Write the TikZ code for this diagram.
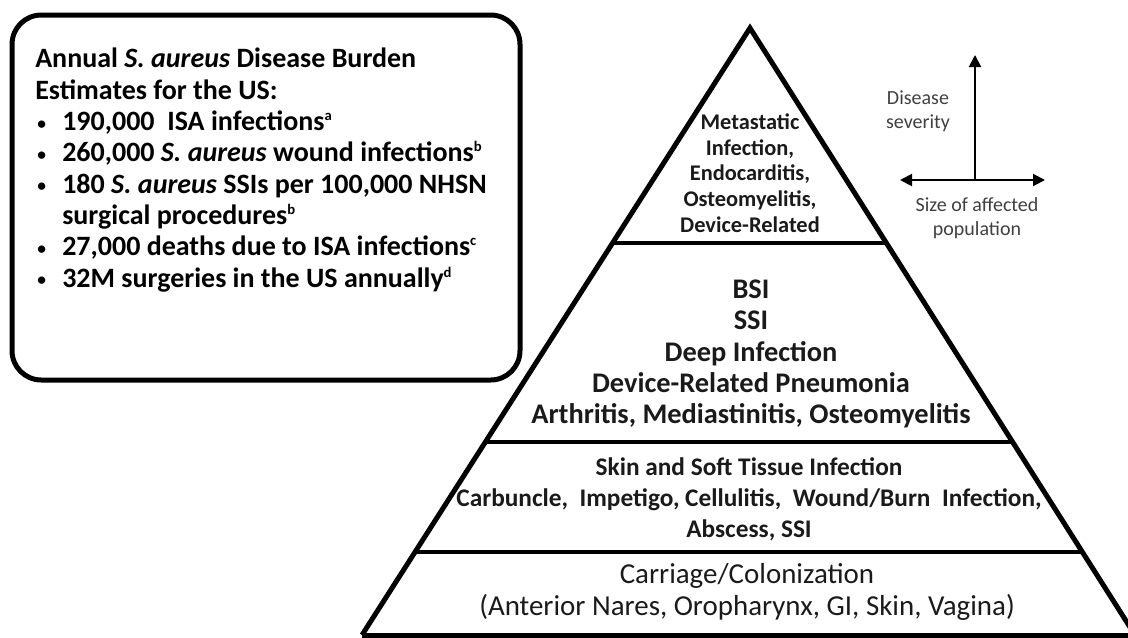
\documentclass[tikz,border=0pt]{standalone}
\usepackage{fontspec}
\usepackage{graphicx}
\setmainfont{Carlito}
\usetikzlibrary{calc, arrows.meta}

% bullet with hanging space
\newcommand{\itembul}{\makebox[20.25pt][l]{\hspace{1.5pt}\raisebox{0.05em}{\scalebox{0.62}{\textbullet}}}}
\newcommand{\itemgap}{\hspace*{20.25pt}}
\newcommand{\fnote}[1]{\textsuperscript{\fontsize{11}{11}\selectfont #1}}

\tikzset{
    edgeline/.style={line width=3.75pt, line join=miter},
    tierline/.style={line width=3pt},
    tiertext/.style={align=center, text=textColour, inner sep=0pt},
    axislabel/.style={align=center, text=labelColour, inner sep=0pt, font=\fontsize{15}{18}\selectfont},
    axisarrow/.style={line width=1.5pt, -{Triangle[length=9pt,width=9pt]}},
}

\begin{document}
\begin{tikzpicture}[x=0.75pt, y=-0.75pt]
    % Fix the canvas to the reference size
    \useasboundingbox (0,0) rectangle (1128,637);

    \definecolor{textColour}{HTML}{1A1A1A}
    \definecolor{labelColour}{HTML}{404040}

    % Burden box
    \draw[line width=3.75pt, rounded corners=22pt] (12,15) rectangle (520,380);
    \node[anchor=north west, align=left, inner sep=0pt,
          font=\bfseries\fontsize{21}{23.5}\selectfont] (burden) at (35,48) {%
        Annual \textit{S. aureus} Disease Burden\\
        Estimates for the US:\\
        \itembul 190,000\ \ ISA infections\fnote{a}\\
        \itembul 260,000 \textit{S. aureus} wound infections\fnote{b}\\
        \itembul 180 \textit{S. aureus} SSIs per 100,000 NHSN\\
        \itemgap surgical procedures\fnote{b}\\
        \itembul 27,000 deaths due to ISA infections\fnote{c}\\
        \itembul 32M surgeries in the US annually\fnote{d}};

    % Pyramid corners
    \coordinate (apex) at (750,28);
    \coordinate (baseL) at (362,635);
    \coordinate (baseR) at (1135,635);

    % Draw the pyramid
    \draw[edgeline] (baseL) -- (apex) -- (baseR);
    \draw[edgeline] (baseL) -- (baseR);

    % Tier dividers
    \foreach \t in {0.354, 0.6816, 0.8628}
        \draw[tierline] ($(apex)!\t!(baseL)$) -- ($(apex)!\t!(baseR)$);

    % Tier labels
    \node[tiertext, font=\bfseries\fontsize{16.8}{19.2}\selectfont] (metastatic) at (750,173)
        {Metastatic\\Infection,\\Endocarditis,\\Osteomyelitis,\\Device-Related};
    \node[tiertext, font=\bfseries\fontsize{21.3}{23.4}\selectfont] (invasive) at (751,354)
        {BSI\\SSI\\Deep Infection\\Device-Related Pneumonia\\Arthritis, Mediastinitis, Osteomyelitis};
    \node[tiertext, font=\bfseries\fontsize{19}{23.2}\selectfont] (skin) at (749,499)
        {Skin and Soft Tissue Infection\\Carbuncle,\ \ Impetigo, Cellulitis,\ \ Wound/Burn\ \ Infection,\\Abscess, SSI};
    \node[tiertext, font=\fontsize{21.7}{24.3}\selectfont] (carriage) at (747,592)
        {Carriage/Colonization\\(Anterior Nares, Oropharynx, GI, Skin, Vagina)};

    % Severity and population axes
    \coordinate (origin) at (975,180);
    \coordinate (sevtop) at (975,55);
    \coordinate (popleft) at (900,180);
    \coordinate (popright) at (1045,180);
    \draw[axisarrow] (origin) -- (sevtop);
    \draw[axisarrow, {Triangle[length=9pt,width=9pt]}-{Triangle[length=9pt,width=9pt]}] (popleft) -- (popright);
    \node[axislabel] (severity) at (918,111) {Disease\\severity};
    \node[axislabel] (popsize) at (977,218) {Size of affected\\population};

\end{tikzpicture}
\end{document}
